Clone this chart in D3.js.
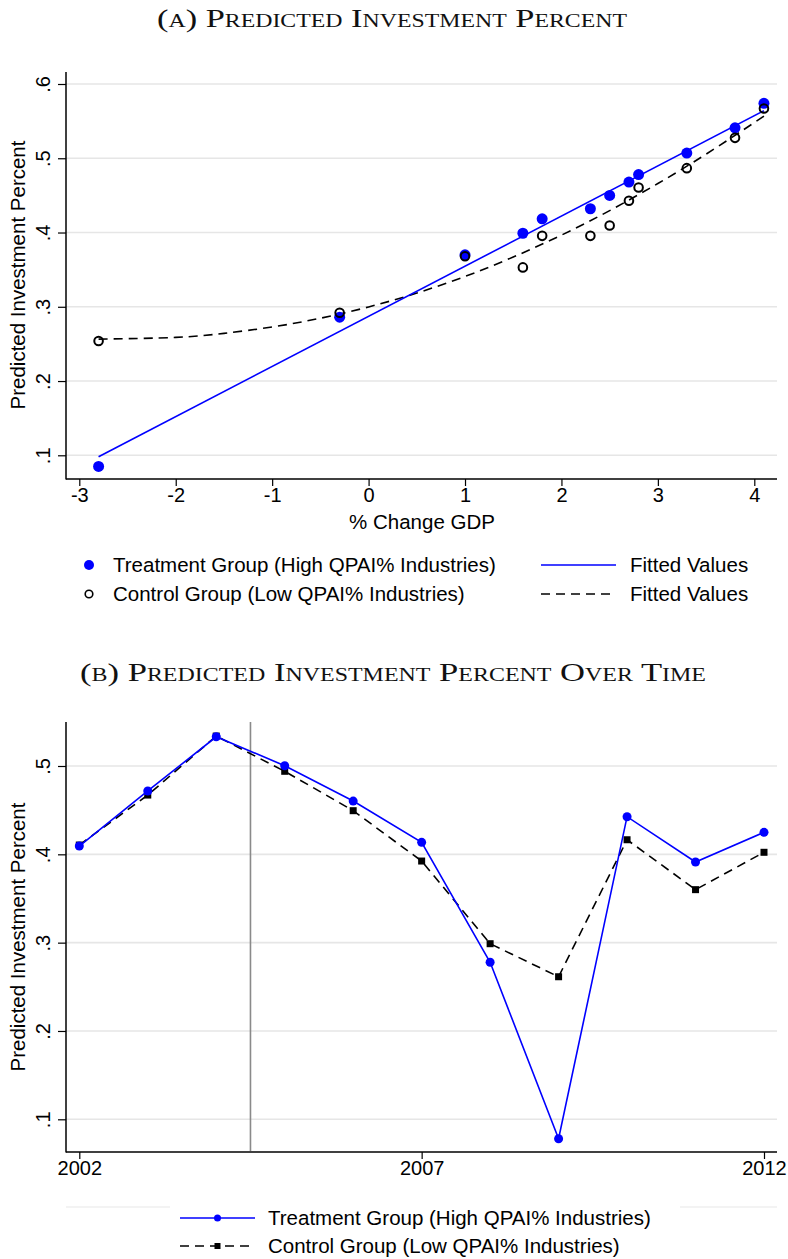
<!DOCTYPE html>
<html>
<head>
<meta charset="utf-8">
<script src="https://cdn.jsdelivr.net/npm/d3@7"></script>
<style>
  body { margin: 0; background: #fff; }
  svg { display: block; }
  .tick text { font-family: "Liberation Sans", Arial, sans-serif; font-size: 20px; fill: #000; }
  .lbl { font-family: "Liberation Sans", Arial, sans-serif; font-size: 20.5px; fill: #000; }
  .title { font-family: "Liberation Serif", "DejaVu Serif", serif; font-size: 26px; font-variant: small-caps; fill: #111; }
</style>
</head>
<body>
<svg width="788" height="1259"></svg>
<script>
// data paneel A
var gdpChange = [-2.8, -0.3, 1.0, 1.6, 1.8, 2.3, 2.5, 2.7, 2.8, 3.3, 3.8, 4.1];
var treatPct = [0.085, 0.286, 0.370, 0.399, 0.4185, 0.432, 0.450, 0.468, 0.478, 0.507, 0.541, 0.574];
var controlPct = [0.254, 0.292, 0.368, 0.353, 0.3955, 0.3955, 0.4095, 0.4427, 0.4606, 0.4867, 0.5275, 0.567];
var treatFitX = [-2.8, 4.1];
var treatFitY = [0.098, 0.564];
var controlFitX = [-2.8, -2, -1.5, -1, -0.5, 0, 0.5, 1, 1.5, 2, 2.5, 3, 3.5, 4.1];
var controlFitY = [0.2565, 0.2588, 0.2642, 0.2728, 0.2846, 0.2998, 0.3185, 0.3408, 0.3670, 0.3965, 0.4295, 0.4660, 0.5055, 0.5567];
var xTicksA = [-3, -2, -1, 0, 1, 2, 3, 4];
var yTicksA = [0.1, 0.2, 0.3, 0.4, 0.5, 0.6];

// data paneel B
var years = [2002, 2003, 2004, 2005, 2006, 2007, 2008, 2009, 2010, 2011, 2012];
var treatYear = [0.4094, 0.4717, 0.5331, 0.5003, 0.4603, 0.4136, 0.2778, 0.078, 0.4426, 0.3913, 0.4249];
var controlYear = [0.4105, 0.4671, 0.5339, 0.494, 0.4494, 0.3924, 0.2988, 0.2614, 0.4165, 0.360, 0.4023];
var xTicksB = [2002, 2007, 2012];
var yTicksB = [0.1, 0.2, 0.3, 0.4, 0.5];
var policyYear = 2004.5;

var blue = "#0000ff";
var grid = "#e6e6e6";
var svg = d3.select("svg");

// .6 in plaats van 0.6, en een gewoon streepje als minteken
var fmtY = function (d) { return d3.format(".1f")(d).replace(/^0/, ""); };
var fmtX = function (d) { return String(d); };

function zip(xs, ys) {
    return xs.map(function (d, i) { return [d, ys[i]]; });
}

// gemeenschappelijk: assen en raster tekenen
function frame(g, x, y, xTicks, yTicks, left, right, top, bottom) {
    g.append("g").selectAll("line")
        .data(yTicks).enter().append("line")
        .attr("x1", left).attr("x2", right)
        .attr("y1", y).attr("y2", y)
        .attr("stroke", grid).attr("stroke-width", 1.6);

    var ya = g.append("g")
        .attr("transform", "translate(" + left + ",0)")
        .call(d3.axisLeft(y).tickValues(yTicks).tickFormat(fmtY).tickSize(8).tickSizeOuter(0));
    ya.select(".domain").remove();
    ya.selectAll(".tick line").attr("stroke-width", 1.2);
    ya.selectAll(".tick text")
        .attr("transform", "rotate(-90)")
        .attr("x", 0).attr("dy", 0).attr("y", -16)
        .attr("text-anchor", "middle");

    var xa = g.append("g")
        .attr("transform", "translate(0," + bottom + ")")
        .call(d3.axisBottom(x).tickValues(xTicks).tickFormat(fmtX).tickSize(7).tickSizeOuter(0));
    xa.select(".domain").remove();
    xa.selectAll(".tick line").attr("stroke-width", 1.2);
    xa.selectAll(".tick text").attr("y", 9).attr("dy", "0.71em");

    g.append("line").attr("x1", left).attr("x2", left).attr("y1", top).attr("y2", bottom + 0.5)
        .attr("stroke", "#000").attr("stroke-width", 1.5);
    g.append("line").attr("x1", left).attr("x2", right).attr("y1", bottom).attr("y2", bottom)
        .attr("stroke", "#000").attr("stroke-width", 1.5);
}

// ---------- paneel A ----------
svg.append("text").attr("class", "title")
    .attr("x", 392).attr("y", 27).attr("text-anchor", "middle")
    .attr("textLength", 470).attr("lengthAdjust", "spacingAndGlyphs")
    .text("(a) Predicted Investment Percent");

var xA = d3.scaleLinear().domain([-3, 4]).range([79.3, 754.3]);
var yA = d3.scaleLinear().domain([0.1, 0.6]).range([455.3, 84]);
var gA = svg.append("g");
frame(gA, xA, yA, xTicksA, yTicksA, 66, 777, 72, 479);

gA.append("text").attr("class", "lbl")
    .attr("x", 422).attr("y", 529).attr("text-anchor", "middle")
    .text("% Change GDP");
gA.append("text").attr("class", "lbl")
    .attr("transform", "translate(25,275) rotate(-90)")
    .attr("text-anchor", "middle")
    .text("Predicted Investment Percent");

var lineA = d3.line().x(function (d) { return xA(d[0]); }).y(function (d) { return yA(d[1]); });

gA.append("path")
    .attr("d", lineA.curve(d3.curveNatural)(zip(controlFitX, controlFitY)))
    .attr("fill", "none").attr("stroke", "#000").attr("stroke-width", 1.6)
    .attr("stroke-dasharray", "9,6");
gA.append("path")
    .attr("d", lineA.curve(d3.curveLinear)(zip(treatFitX, treatFitY)))
    .attr("fill", "none").attr("stroke", blue).attr("stroke-width", 1.6);

gA.selectAll(".dotT")
    .data(zip(gdpChange, treatPct)).enter().append("circle")
    .attr("class", "dotT")
    .attr("cx", function (d) { return xA(d[0]); })
    .attr("cy", function (d) { return yA(d[1]); })
    .attr("r", 5.5).attr("fill", blue);

gA.selectAll(".dotC")
    .data(zip(gdpChange, controlPct)).enter().append("circle")
    .attr("class", "dotC")
    .attr("cx", function (d) { return xA(d[0]); })
    .attr("cy", function (d) { return yA(d[1]); })
    .attr("r", 4.3).attr("fill", "none").attr("stroke", "#000").attr("stroke-width", 2);

// legenda A
var legA = svg.append("g");
legA.append("circle").attr("cx", 89).attr("cy", 565).attr("r", 5).attr("fill", blue);
legA.append("circle").attr("cx", 89).attr("cy", 594).attr("r", 3.8)
    .attr("fill", "none").attr("stroke", "#000").attr("stroke-width", 1.6);
legA.append("text").attr("class", "lbl").attr("x", 113).attr("y", 572)
    .text("Treatment Group (High QPAI% Industries)");
legA.append("text").attr("class", "lbl").attr("x", 113).attr("y", 601)
    .text("Control Group (Low QPAI% Industries)");
legA.append("line").attr("x1", 541).attr("x2", 616).attr("y1", 565).attr("y2", 565)
    .attr("stroke", blue).attr("stroke-width", 1.6);
legA.append("line").attr("x1", 541).attr("x2", 616).attr("y1", 594).attr("y2", 594)
    .attr("stroke", "#000").attr("stroke-width", 1.6).attr("stroke-dasharray", "9,6");
legA.append("text").attr("class", "lbl").attr("x", 630).attr("y", 572).text("Fitted Values");
legA.append("text").attr("class", "lbl").attr("x", 630).attr("y", 601).text("Fitted Values");

// ---------- paneel B ----------
svg.append("text").attr("class", "title")
    .attr("x", 393).attr("y", 681).attr("text-anchor", "middle")
    .attr("textLength", 626).attr("lengthAdjust", "spacingAndGlyphs")
    .text("(b) Predicted Investment Percent Over Time");

var xB = d3.scaleLinear().domain([2002, 2012]).range([79.3, 764]);
var yB = d3.scaleLinear().domain([0.1, 0.5]).range([1119.3, 766]);
var gB = svg.append("g");
frame(gB, xB, yB, xTicksB, yTicksB, 66, 777, 722, 1152);

gB.append("line")
    .attr("x1", xB(policyYear)).attr("x2", xB(policyYear))
    .attr("y1", 722).attr("y2", 1151)
    .attr("stroke", "#8a8a8a").attr("stroke-width", 1.6);

gB.append("text").attr("class", "lbl")
    .attr("transform", "translate(25,937) rotate(-90)")
    .attr("text-anchor", "middle")
    .text("Predicted Investment Percent");

var lineB = d3.line().x(function (d) { return xB(d[0]); }).y(function (d) { return yB(d[1]); });

gB.append("path")
    .attr("d", lineB(zip(years, controlYear)))
    .attr("fill", "none").attr("stroke", "#000").attr("stroke-width", 1.6)
    .attr("stroke-dasharray", "9,6");
gB.selectAll(".sqC")
    .data(zip(years, controlYear)).enter().append("rect")
    .attr("class", "sqC")
    .attr("x", function (d) { return xB(d[0]) - 3.5; })
    .attr("y", function (d) { return yB(d[1]) - 3.5; })
    .attr("width", 7).attr("height", 7).attr("fill", "#000");

gB.append("path")
    .attr("d", lineB(zip(years, treatYear)))
    .attr("fill", "none").attr("stroke", blue).attr("stroke-width", 1.6);
gB.selectAll(".dotB")
    .data(zip(years, treatYear)).enter().append("circle")
    .attr("class", "dotB")
    .attr("cx", function (d) { return xB(d[0]); })
    .attr("cy", function (d) { return yB(d[1]); })
    .attr("r", 4.5).attr("fill", blue);

// legenda B
var legB = svg.append("g");
legB.append("line").attr("x1", 66).attr("x2", 170).attr("y1", 1207).attr("y2", 1207)
    .attr("stroke", "#efefef").attr("stroke-width", 1.5);
legB.append("line").attr("x1", 680).attr("x2", 777).attr("y1", 1207).attr("y2", 1207)
    .attr("stroke", "#efefef").attr("stroke-width", 1.5);
legB.append("line").attr("x1", 180).attr("x2", 255).attr("y1", 1218).attr("y2", 1218)
    .attr("stroke", blue).attr("stroke-width", 1.6);
legB.append("circle").attr("cx", 217.5).attr("cy", 1218).attr("r", 3.5).attr("fill", blue);
legB.append("line").attr("x1", 180).attr("x2", 255).attr("y1", 1246).attr("y2", 1246)
    .attr("stroke", "#000").attr("stroke-width", 1.6).attr("stroke-dasharray", "9,6");
legB.append("rect").attr("x", 214.5).attr("y", 1243).attr("width", 6).attr("height", 6).attr("fill", "#000");
legB.append("text").attr("class", "lbl").attr("x", 268).attr("y", 1225)
    .text("Treatment Group (High QPAI% Industries)");
legB.append("text").attr("class", "lbl").attr("x", 268).attr("y", 1253)
    .text("Control Group (Low QPAI% Industries)");
</script>
</body>
</html>
